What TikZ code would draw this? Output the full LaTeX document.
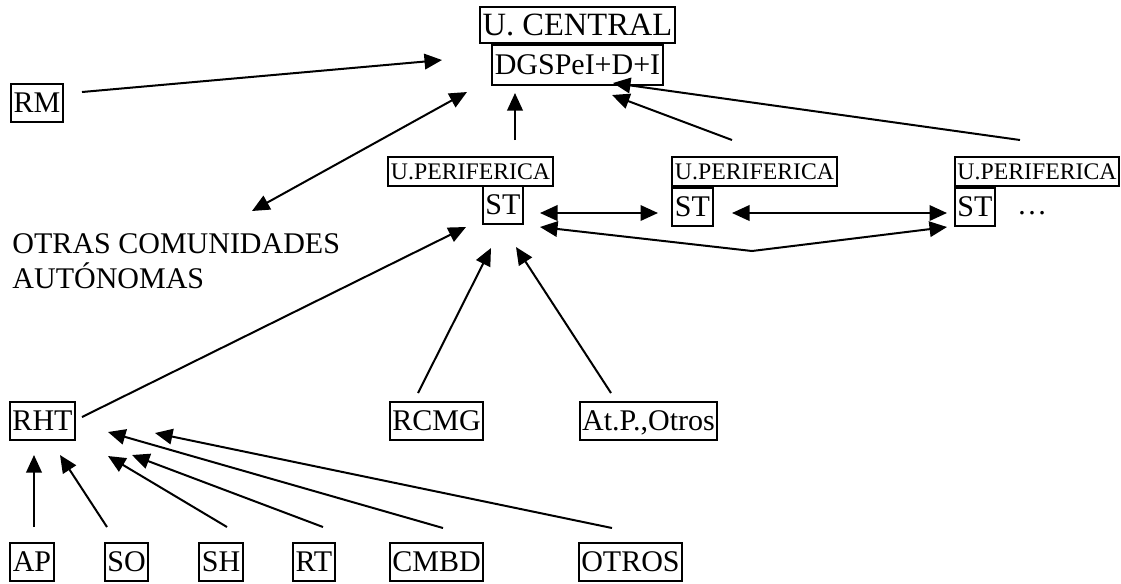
\documentclass[tikz,border=0pt]{standalone}
\usepackage{fontspec}
\setmainfont{Liberation Serif}
\usetikzlibrary{arrows.meta,positioning}

\tikzset{
  caja/.style={draw, line width=0.8pt, inner xsep=1pt, inner ysep=0pt, minimum height=15.2pt, text depth=0pt, font=\fontsize{12}{14}\selectfont},
  peri/.style={caja, minimum height=11.6pt, font=\fontsize{9.5}{11}\selectfont},
  flecha/.style={line width=0.8pt, -{Triangle[length=7pt,width=6.2pt]}},
  doble/.style={line width=0.8pt, {Triangle[length=7pt,width=6.2pt]}-{Triangle[length=7pt,width=6.2pt]}}
}

\begin{document}
\begin{tikzpicture}[x=0.4pt,y=-0.4pt]
\useasboundingbox (0,0) rectangle (1121,583);
% unidad central
\node[caja, minimum height=14.4pt, font=\fontsize{13}{15}\selectfont] (ucentral) at (577.5,25) {U. CENTRAL};
\node[caja, minimum height=16pt, below=0pt of ucentral] (dgs) {DGSPeI+D+I};
\node[caja] (rm) at (37,102.5) {RM};
\node[align=left, anchor=north west, inner sep=0pt, font=\fontsize{12}{14}\selectfont] (otras) at (12,233) {OTRAS COMUNIDADES\\AUTÓNOMAS};

% unidades perifericas
\node[peri] (per1) at (470.5,171.5) {U.PERIFERICA};
\node[caja] (st1) at (503,205) {ST};
\node[peri] (per2) at (754.5,171.5) {U.PERIFERICA};
\node[caja, below right=0pt and 0pt of per2.south west] (st2) {ST};
\node[peri] (per3) at (1037,171.5) {U.PERIFERICA};
\node[caja, below right=0pt and 0pt of per3.south west] (st3) {ST};
\node[font=\fontsize{12}{14}\selectfont] (dots) at (1032,213) {…};

% fuentes
\node[caja] (rht) at (42.5,420.5) {RHT};
\node[caja] (rcmg) at (436.5,420.5) {RCMG};
\node[caja] (atp) at (648.5,420.5) {At.P.,Otros};
\node[caja] (ap) at (32,562) {AP};
\node[caja] (so) at (126.5,562) {SO};
\node[caja] (sh) at (221,562) {SH};
\node[caja] (rt) at (314,562) {RT};
\node[caja] (cmbd) at (436.5,562) {CMBD};
\node[caja] (otros) at (630.5,562) {OTROS};

% extremos de las flechas
\coordinate (rmA) at (82,92);     \coordinate (rmB) at (442,60);
\coordinate (otA) at (252,211);   \coordinate (otB) at (467,92);
\coordinate (p1A) at (515,140);   \coordinate (p1B) at (515,93);
\coordinate (p2A) at (732,140);   \coordinate (p2B) at (612,95);
\coordinate (p3A) at (1020,140);  \coordinate (p3B) at (613,83);
\coordinate (s12A) at (540,213);  \coordinate (s12B) at (658,213);
\coordinate (s23A) at (732,213);  \coordinate (s23B) at (947,213);
\coordinate (s13A) at (540,227);  \coordinate (s13V) at (752,251);  \coordinate (s13B) at (947,227);
\coordinate (rhtA) at (82,417);   \coordinate (rhtB) at (466,227);
\coordinate (rcA) at (418,393);   \coordinate (rcB) at (491,248);
\coordinate (atA) at (611,393);   \coordinate (atB) at (516,247);
\coordinate (apA) at (34,527);    \coordinate (apB) at (34,455);
\coordinate (soA) at (107,527);   \coordinate (soB) at (60,455);
\coordinate (shA) at (227,527);   \coordinate (shB) at (108,456);
\coordinate (rtA) at (323,527);   \coordinate (rtB) at (132,455);
\coordinate (cmA) at (443,528);   \coordinate (cmB) at (108,432);
\coordinate (otrA) at (612,528);  \coordinate (otrB) at (155,433);

% flechas
\draw[flecha] (rmA) -- (rmB);
\draw[doble] (otA) -- (otB);
\draw[flecha] (p1A) -- (p1B);
\draw[flecha] (p2A) -- (p2B);
\draw[flecha] (p3A) -- (p3B);
\draw[doble] (s12A) -- (s12B);
\draw[doble] (s23A) -- (s23B);
\draw[doble] (s13A) -- (s13V) -- (s13B);
\draw[flecha] (rhtA) -- (rhtB);
\draw[flecha] (rcA) -- (rcB);
\draw[flecha] (atA) -- (atB);
\draw[flecha] (apA) -- (apB);
\draw[flecha] (soA) -- (soB);
\draw[flecha] (shA) -- (shB);
\draw[flecha] (rtA) -- (rtB);
\draw[flecha] (cmA) -- (cmB);
\draw[flecha] (otrA) -- (otrB);
\end{tikzpicture}
\end{document}
